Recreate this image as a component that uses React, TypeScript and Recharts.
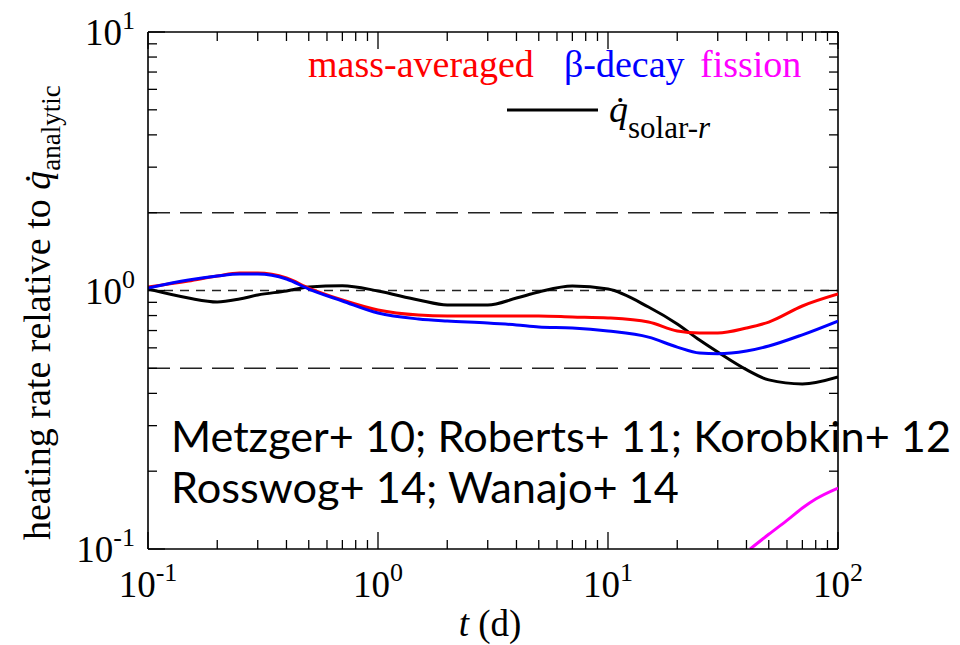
import { LineChart, Line, XAxis, YAxis, ReferenceLine } from "recharts";

const days = [0.1, 0.15, 0.2, 0.25, 0.3, 0.4, 0.5, 0.7, 1, 1.5, 2, 3, 4, 5, 7, 10, 15, 20, 25, 30, 40, 50, 70, 100];
const massAveraged = [1.032, 1.088, 1.138, 1.169, 1.169, 1.118, 1.022, 0.919, 0.841, 0.804, 0.797, 0.797, 0.797, 0.797, 0.79, 0.783, 0.755, 0.697, 0.685, 0.685, 0.716, 0.755, 0.871, 0.969];
const betaDecay = [1.022, 1.098, 1.138, 1.158, 1.158, 1.108, 1.013, 0.911, 0.818, 0.776, 0.762, 0.749, 0.736, 0.722, 0.716, 0.697, 0.66, 0.604, 0.573, 0.569, 0.583, 0.61, 0.674, 0.762];
const solarR = [1.013, 0.935, 0.903, 0.927, 0.961, 0.996, 1.032, 1.044, 0.996, 0.919, 0.879, 0.879, 0.935, 0.987, 1.041, 1.013, 0.863, 0.742, 0.643, 0.578, 0.494, 0.451, 0.435, 0.463];

const fissionDays = [41.5, 50, 60, 70, 80, 100];
const fission = [0.1, 0.114, 0.129, 0.144, 0.156, 0.172];

const xMajor = [0.1, 1, 10, 100];
const yMajor = [0.1, 1, 10];
const minorSteps = [2, 3, 4, 5, 6, 7, 8, 9];
const dashedLevels = [2, 1, 0.5];

const SERIF = "'Liberation Serif', 'DejaVu Serif', serif";

const W = 960;
const H = 645;
const PLOT_TOP = 32;
const PLOT_RIGHT = 838;

const curveData = days.map((t, i) => ({ t, mass: massAveraged[i], beta: betaDecay[i], solar: solarR[i] }));
const fissionData = fissionDays.map((t, i) => ({ t, fission: fission[i] }));

// majors plus 2..9 between each pair of decades
const withMinor = (majors: number[]) =>
  majors.flatMap((m, i) => (i < majors.length - 1 ? [m, ...minorSteps.map((s) => +(m * s).toPrecision(3))] : [m]));
const xTicks = withMinor(xMajor);
const yTicks = withMinor(yMajor);

const exponentOf = (v: number) => Math.round(Math.log10(v));
const isMajor = (v: number) => Math.abs(Math.log10(v) - exponentOf(v)) < 1e-6;

const MAJOR = 17;
const MINOR = 9;

const PowLabel = ({ x, y, v, anchor }: { x: number; y: number; v: number; anchor: "middle" | "end" }) => (
  <text x={x} y={y} textAnchor={anchor} fontFamily={SERIF} fontSize={37} fill="#000">
    10
    <tspan dy={-16} fontSize={26}>
      {exponentOf(v)}
    </tspan>
  </text>
);

// bottom axis tick also draws the matching inward tick on the top edge
const XTick = (props: any) => {
  const { x, y, payload } = props;
  const major = isMajor(payload.value);
  const len = major ? MAJOR : MINOR;
  return (
    <g>
      <line x1={x} x2={x} y1={y} y2={y - len} stroke="#000" strokeWidth={1.3} />
      <line x1={x} x2={x} y1={PLOT_TOP} y2={PLOT_TOP + len} stroke="#000" strokeWidth={1.3} />
      {major && <PowLabel x={x} y={y + 48} v={payload.value} anchor="middle" />}
    </g>
  );
};

// left axis tick also draws the matching inward tick on the right edge
const YTick = (props: any) => {
  const { x, y, payload } = props;
  const major = isMajor(payload.value);
  const len = major ? MAJOR : MINOR;
  return (
    <g>
      <line x1={x} x2={x + len} y1={y} y2={y} stroke="#000" strokeWidth={1.3} />
      <line x1={PLOT_RIGHT} x2={PLOT_RIGHT - len} y1={y} y2={y} stroke="#000" strokeWidth={1.3} />
      {major && <PowLabel x={x - 13} y={y + 13} v={payload.value} anchor="end" />}
    </g>
  );
};

const frame = { stroke: "#000", strokeWidth: 1.6 };

export default function App() {
  return (
    <div style={{ position: "absolute", left: 0, top: 0, width: W, height: H, background: "#fff" }}>
      <LineChart width={W} height={H} margin={{ top: PLOT_TOP, right: W - PLOT_RIGHT, bottom: 0, left: 0 }}>
        <XAxis
          dataKey="t"
          type="number"
          scale="log"
          domain={[0.1, 100]}
          allowDataOverflow
          ticks={xTicks}
          interval={0}
          tickSize={0}
          tickMargin={0}
          tickLine={false}
          tick={<XTick />}
          axisLine={frame}
          height={96}
        />
        <YAxis
          type="number"
          scale="log"
          domain={[0.1, 10]}
          allowDataOverflow
          ticks={yTicks}
          interval={0}
          tickSize={0}
          tickMargin={0}
          tickLine={false}
          tick={<YTick />}
          axisLine={frame}
          width={148}
        />
        <ReferenceLine y={10} stroke="#000" strokeWidth={1.6} />
        <ReferenceLine x={100} stroke="#000" strokeWidth={1.6} />
        {dashedLevels.map((lv) => (
          <ReferenceLine
            key={lv}
            y={lv}
            stroke="#222"
            strokeWidth={1.5}
            strokeDasharray={lv === 1 ? "9 7" : "22 10"}
          />
        ))}
        <Line data={curveData} dataKey="solar" type="monotone" stroke="#000" strokeWidth={3} dot={false} isAnimationActive={false} />
        <Line data={curveData} dataKey="mass" type="monotone" stroke="#ff0000" strokeWidth={3} dot={false} isAnimationActive={false} />
        <Line data={curveData} dataKey="beta" type="monotone" stroke="#0000ff" strokeWidth={3} dot={false} isAnimationActive={false} />
        <Line data={fissionData} dataKey="fission" type="monotone" stroke="#ff00ff" strokeWidth={3} dot={false} isAnimationActive={false} />
      </LineChart>
      <svg width={W} height={H} style={{ position: "absolute", left: 0, top: 0, pointerEvents: "none" }}>
        <g fontFamily={SERIF} fontSize={38}>
          <text x={308} y={77} fill="#ff0000">mass-averaged</text>
          <text x={564} y={77} fill="#0000ff">β-decay</text>
          <text x={700} y={77} fill="#ff00ff">fission</text>
          <line x1={507} x2={598} y1={110} y2={110} stroke="#000" strokeWidth={3} />
          <text x={609} y={122} fill="#000">
            <tspan fontStyle="italic">q̇</tspan>
            <tspan dy={16} fontSize={31}>solar-</tspan>
            <tspan fontSize={31} fontStyle="italic">r</tspan>
          </text>
          <text x={490} y={636} textAnchor="middle" fontSize={37} fill="#000">
            <tspan fontStyle="italic">t</tspan> (d)
          </text>
          <text x={50} y={540} transform="rotate(-90 50 540)" fill="#000">
            heating rate relative to <tspan fontStyle="italic">q̇</tspan>
            <tspan dy={10} fontSize={27}>analytic</tspan>
          </text>
        </g>
        <g fontFamily="Lato, 'Open Sans', sans-serif" fontSize={42} fill="#000">
          <text x={171} y={452} textLength={780} lengthAdjust="spacingAndGlyphs">
            Metzger+ 10; Roberts+ 11; Korobkin+ 12
          </text>
          <text x={171} y={503} textLength={508} lengthAdjust="spacingAndGlyphs">
            Rosswog+ 14; Wanajo+ 14
          </text>
        </g>
      </svg>
    </div>
  );
}
